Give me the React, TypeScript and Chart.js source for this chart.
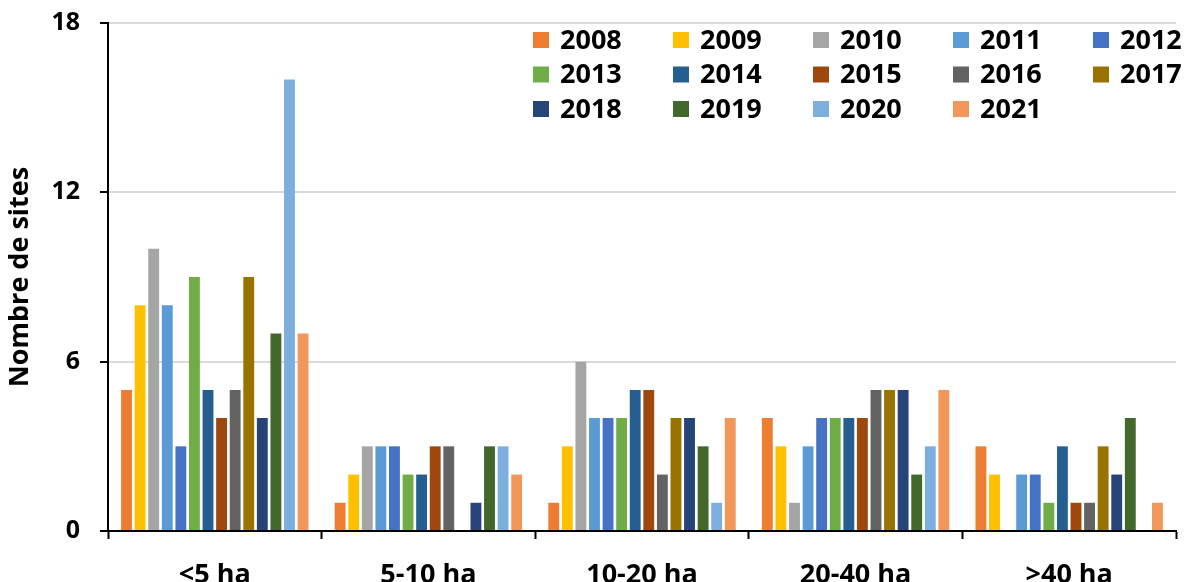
import React, { useEffect, useRef } from "react";
import { Chart, registerables } from "chart.js";

Chart.register(...registerables);

const categories = ["<5 ha", "5-10 ha", "10-20 ha", "20-40 ha", ">40 ha"];
const years = ["2008", "2009", "2010", "2011", "2012", "2013", "2014", "2015", "2016", "2017", "2018", "2019", "2020", "2021"];
const colors = ["#ED7D31", "#FFC000", "#A5A5A5", "#5B9BD5", "#4472C4", "#70AD47", "#255E91", "#9E480E", "#636363", "#997300", "#264478", "#43682B", "#7CAFDD", "#F1975A"];

const v2008 = [5, 1, 1, 4, 3];
const v2009 = [8, 2, 3, 3, 2];
const v2010 = [10, 3, 6, 1, 0];
const v2011 = [8, 3, 4, 3, 2];
const v2012 = [3, 3, 4, 4, 2];
const v2013 = [9, 2, 4, 4, 1];
const v2014 = [5, 2, 5, 4, 3];
const v2015 = [4, 3, 5, 4, 1];
const v2016 = [5, 3, 2, 5, 1];
const v2017 = [9, 0, 4, 5, 3];
const v2018 = [4, 1, 4, 5, 2];
const v2019 = [7, 3, 3, 2, 4];
const v2020 = [16, 3, 1, 3, 0];
const v2021 = [7, 2, 4, 5, 1];
const seriesValues = [v2008, v2009, v2010, v2011, v2012, v2013, v2014, v2015, v2016, v2017, v2018, v2019, v2020, v2021];

const yTicks = [0, 6, 12, 18];
const yTitle = "Nombre de sites";
const FONT = "'Open Sans', 'DejaVu Sans', sans-serif";

const gridLegend = {
  id: "gridLegend",
  afterDraw(chart: any) {
    const ctx = chart.ctx;
    const { top, right } = chart.chartArea;
    const cols = 5;
    const colW = 140;
    const rowH = 34.5;
    const x0 = right - 643;
    const y0 = top + 17;
    ctx.save();
    chart.data.datasets.forEach((ds: any, i: number) => {
      const c = i % cols;
      const r = Math.floor(i / cols);
      const x = x0 + c * colW;
      const y = y0 + r * rowH;
      ctx.fillStyle = ds.backgroundColor;
      ctx.fillRect(x, y - 8, 16, 16);
      ctx.fillStyle = "#000";
      ctx.font = `bold 27px ${FONT}`;
      ctx.textBaseline = "middle";
      ctx.textAlign = "left";
      ctx.fillText(ds.label, x + 27, y + 1);
    });
    ctx.restore();
  },
};

export default function App() {
  const ref = useRef<HTMLCanvasElement>(null);
  useEffect(() => {
    if (!ref.current) return;
    const chart = new Chart(ref.current, {
      type: "bar",
      data: {
        labels: categories,
        datasets: years.map((y, i) => ({
          label: y,
          data: seriesValues[i],
          backgroundColor: colors[i],
          borderWidth: 0,
          categoryPercentage: 0.89,
          barPercentage: 0.8,
        })),
      },
      options: {
        responsive: false,
        animation: false,
        layout: { padding: { top: 23, right: 10, bottom: 0, left: 0 } },
        plugins: {
          legend: { display: false },
          tooltip: { enabled: false },
        },
        scales: {
          x: {
            afterFit: (s: any) => { s.height = 51; },
            grid: {
              offset: true,
              drawOnChartArea: false,
              drawTicks: true,
              tickLength: 8,
              tickColor: "#000",
              tickWidth: 2,
            },
            border: { color: "#000", width: 2 },
            ticks: {
              color: "#000",
              font: { family: FONT, size: 27, weight: "bold" },
              padding: 20,
              maxRotation: 0,
            },
          },
          y: {
            min: 0,
            max: 18,
            afterFit: (s: any) => {
              s.width = 108;
              s.paddingTop = 10;
              s.paddingBottom = 10;
            },
            afterBuildTicks: (s: any) => { s.ticks = yTicks.map((v) => ({ value: v })); },
            grid: {
              color: "#D9D9D9",
              lineWidth: 2,
              tickLength: 8,
              tickColor: "#000",
              tickWidth: 2,
            },
            border: { color: "#000", width: 2 },
            ticks: {
              color: "#000",
              font: { family: FONT, size: 25, weight: "bold" },
              padding: 20,
            },
            title: {
              display: true,
              text: yTitle,
              color: "#000",
              font: { family: FONT, size: 27, weight: "bold" },
              padding: { top: 4, bottom: 0 },
            },
          },
        },
      },
      plugins: [gridLegend],
    });
    return () => chart.destroy();
  }, []);
  return (
    <canvas
      ref={ref}
      width={1186}
      height={582}
      style={{ position: "fixed", left: 0, top: 0, width: 1186, height: 582, display: "block", background: "#fff" }}
    />
  );
}
